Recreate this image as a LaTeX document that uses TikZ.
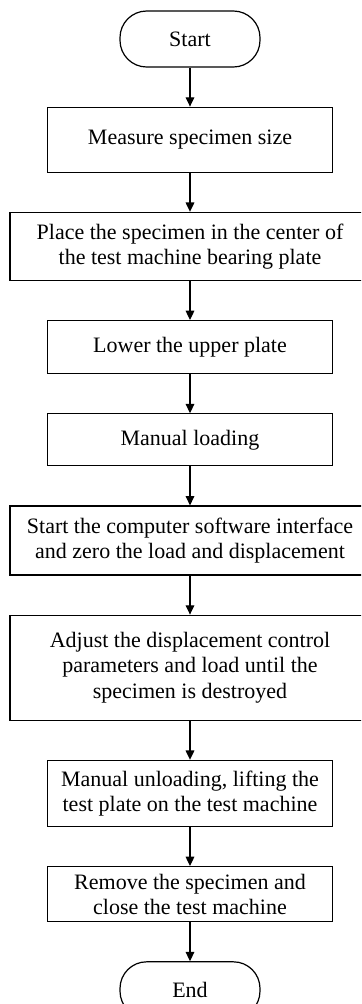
\documentclass[tikz,border=0pt]{standalone}
\usepackage{fontspec}
\setmainfont{Liberation Serif}
\usetikzlibrary{positioning,arrows.meta}

\begin{document}
\begin{tikzpicture}[
    node distance=29.25pt,
    every node/.style={font=\fontsize{16.5}{18.8}\selectfont, align=center},
    term/.style={draw, line width=0.9pt, rounded corners=20pt, minimum width=105pt, minimum height=42pt},
    stepbox/.style={draw, line width=0.9pt, minimum width=213.75pt},
    widebox/.style={draw, line width=0.9pt, minimum width=270pt},
    flow/.style={-{Triangle[length=7pt,width=6.5pt]}, line width=0.9pt},
]

% page size, the wide boxes run off the right edge
\useasboundingbox (0,0) rectangle (270.75pt,-753pt);
\clip (0,0) rectangle (270.75pt,-753pt);

% Steps
\node[term] (start) at (142.5pt,-29.25pt) {Start};
\node[stepbox, minimum height=48.75pt, below=of start] (measure) {Measure specimen size};
\node[widebox, minimum height=51pt, below=of measure] (place)
    {Place the specimen in the center of\\the test machine bearing plate};
\node[stepbox, minimum height=39.75pt, below=of place] (lower) {Lower the upper plate};
\node[stepbox, minimum height=39pt, below=of lower] (load) {Manual loading};
\node[widebox, minimum height=51.75pt, below=of load] (zero)
    {Start the computer software interface\\and zero the load and displacement};
\node[widebox, minimum height=78.75pt, below=of zero] (adjust)
    {Adjust the displacement control\\parameters and load until the\\specimen is destroyed};
\node[stepbox, minimum height=49.5pt, below=of adjust] (unload)
    {Manual unloading, lifting the\\test plate on the test machine};
\node[stepbox, minimum height=41.25pt, below=of unload] (remove)
    {Remove the specimen and\\close the test machine};
\node[term, below=of remove] (stop) {End};

% Arrows
\foreach \a/\b in {start/measure, measure/place, place/lower, lower/load, load/zero,
                   zero/adjust, adjust/unload, unload/remove, remove/stop}
    \draw[flow] (\a) -- (\b);

\end{tikzpicture}
\end{document}
